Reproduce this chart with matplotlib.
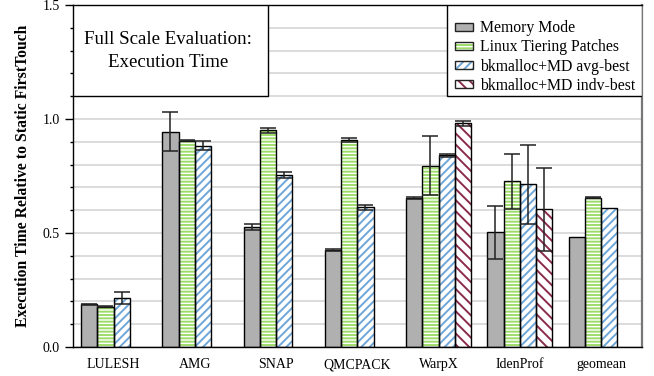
import numpy as np
import matplotlib.pyplot as plt
from matplotlib.patches import Patch, Rectangle
from matplotlib.ticker import MultipleLocator

plt.rcParams['font.family'] = ['Liberation Serif', 'DejaVu Serif']
plt.rcParams['hatch.linewidth'] = 1.4

apps = ['LULESH', 'AMG', 'SNAP', 'QMCPACK', 'WarpX', 'IdenProf', 'geomean']
nan = np.nan

mem = [0.187, 0.945, 0.528, 0.425, 0.652, 0.503, 0.484]
mem_err = [0.002, 0.087, 0.013, 0.004, 0.004, 0.115, nan]
linux = [0.177, 0.904, 0.950, 0.907, 0.796, 0.727, 0.655]
linux_err = [0.002, 0.002, 0.012, 0.008, 0.128, 0.12, 0.002]
avg = [0.215, 0.883, 0.755, 0.612, 0.840, 0.713, 0.611]
avg_err = [0.027, 0.02, 0.012, 0.01, 0.008, 0.172, nan]
indv = [nan, nan, nan, nan, 0.981, 0.604, nan]
indv_err = [nan, nan, nan, nan, 0.01, 0.182, nan]

series = [
    ('Memory Mode', mem, mem_err, '#b0b0b0', '#b0b0b0', ''),
    ('Linux Tiering Patches', linux, linux_err, 'white', '#9edc6a', '-----'),
    ('bkmalloc+MD avg-best', avg, avg_err, 'white', '#6fa6d8', '////'),
    ('bkmalloc+MD indv-best', indv, indv_err, 'white', '#8a2b4c', '\\\\\\'),
]

fig = plt.figure(figsize=(6.54, 3.76), dpi=100)
ax = fig.add_axes([0.1116, 0.0771, 0.8696, 0.9096])

x = np.arange(len(apps))
w = 0.2
offsets = [-0.3, -0.1, 0.1, 0.3]

handles = []
for (name, vals, errs, face, hcol, hatch), off in zip(series, offsets):
    vals = np.array(vals, dtype=float)
    errs = np.array(errs, dtype=float)
    ok = ~np.isnan(vals)
    # hatch layer first, black outline on top
    ax.bar(x[ok] + off, vals[ok], w, color=face, edgecolor=hcol, hatch=hatch,
           linewidth=0, zorder=2)
    ax.bar(x[ok] + off, vals[ok], w, fill=False, edgecolor='black',
           linewidth=1.0, zorder=3)
    ek = ok & ~np.isnan(errs)
    ax.errorbar(x[ek] + off, vals[ek], yerr=errs[ek], fmt='none',
                ecolor='#222222', elinewidth=1.1, capsize=6, capthick=1.1,
                zorder=4)
    handles.append((Patch(facecolor=face, edgecolor=hcol, hatch=hatch, linewidth=0),
                    Patch(fill=False, edgecolor='#222222', linewidth=1.0)))

ax.set_xlim(-0.5, len(apps) - 0.5)
ax.set_ylim(0, 1.5)
ax.set_xticks(x)
ax.set_xticklabels(apps, fontsize=10)
ax.tick_params(axis='x', length=0, pad=8)
ax.yaxis.set_major_locator(MultipleLocator(0.5))
ax.yaxis.set_minor_locator(MultipleLocator(0.1))
ax.tick_params(axis='y', which='major', length=6, width=1, labelsize=10)
ax.tick_params(axis='y', which='minor', length=2.5, width=1)
ax.set_yticklabels(['%.1f' % v for v in ax.get_yticks()])
ax.grid(True, axis='y', which='both', color='#d6d6d6', linewidth=1.2)
ax.set_axisbelow(True)
ax.set_ylabel('Execution Time Relative to Static FirstTouch',
              fontsize=11.3, fontweight='bold', labelpad=8)

for s in ['left', 'bottom', 'top']:
    ax.spines[s].set_linewidth(1.0)
ax.spines['right'].set_color('#777777')
ax.spines['right'].set_linewidth(1.6)

# title box
ax.add_patch(Rectangle((0, 1.1), 0.343, 0.4, transform=ax.get_yaxis_transform(),
                       facecolor='white', edgecolor='black', linewidth=1.0,
                       zorder=5))
ax.text(0.167, 1.298, 'Full Scale Evaluation:\nExecution Time',
        transform=ax.get_yaxis_transform(), ha='center', va='center',
        fontsize=13.6, linespacing=1.4, zorder=6)

# legend box
ax.add_patch(Rectangle((0.657, 1.1), 0.343, 0.4, transform=ax.get_yaxis_transform(),
                       facecolor='white', edgecolor='black', linewidth=1.0,
                       zorder=5))
leg = ax.legend(handles, [s[0] for s in series], loc='center',
                bbox_to_anchor=(0.83, 0.848), frameon=False, fontsize=11.3,
                handlelength=1.15, handleheight=0.42, handletextpad=0.45,
                labelspacing=0.2, borderpad=0)
leg.set_zorder(6)

fig.savefig('out.png', dpi=100)
